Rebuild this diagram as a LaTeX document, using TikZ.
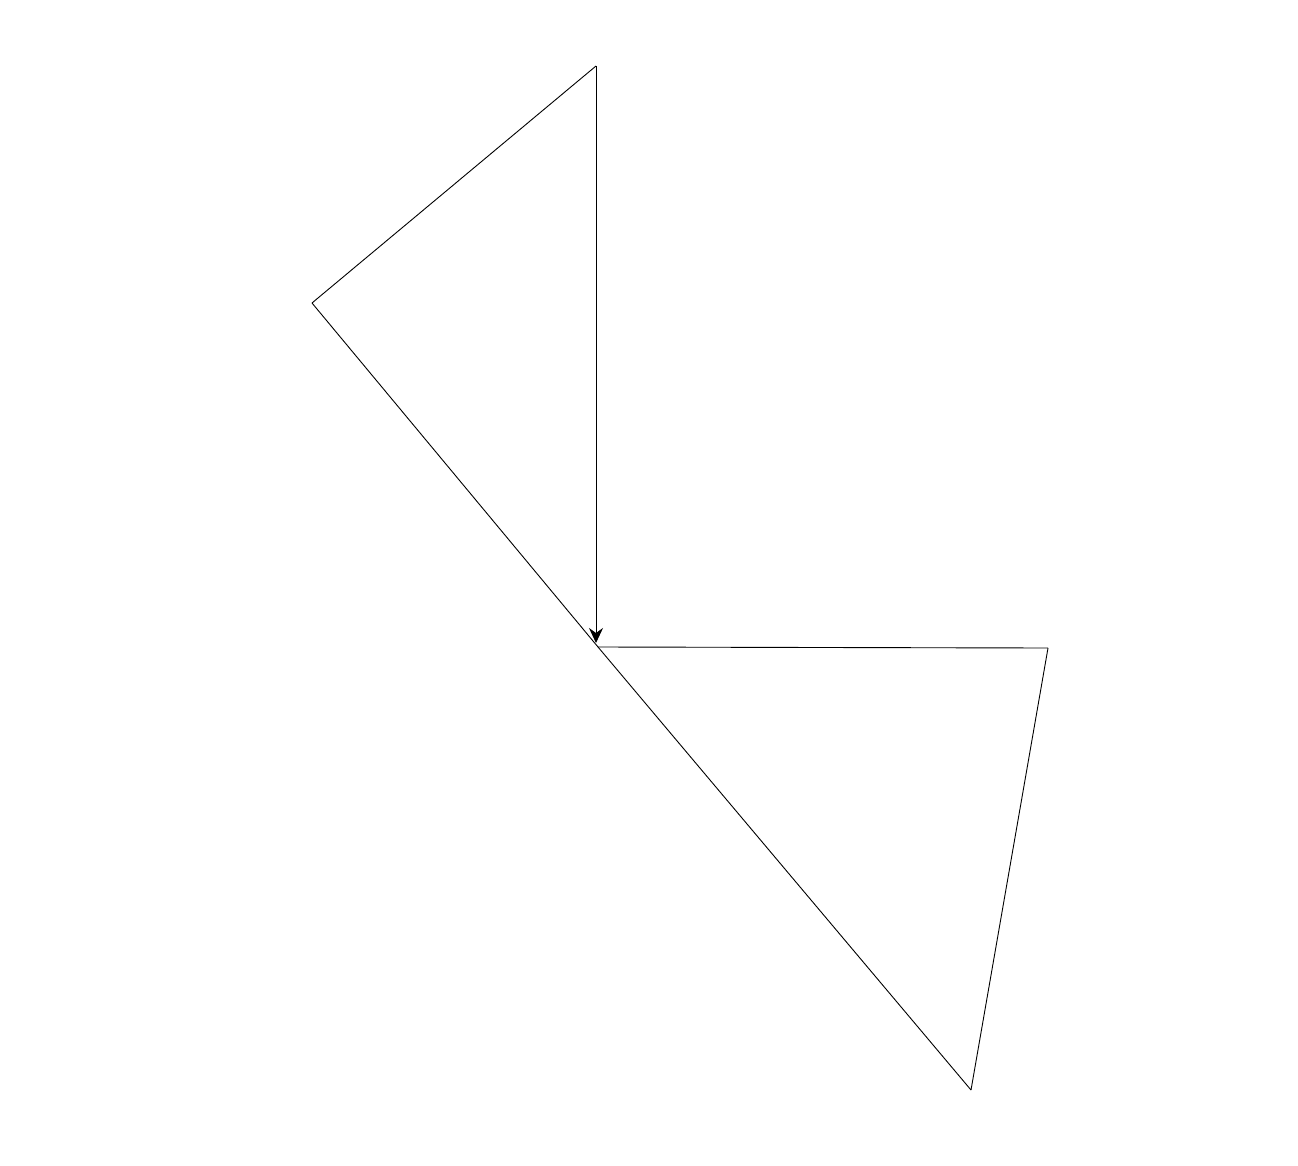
\documentclass[tikz,border=0pt]{standalone}
\usetikzlibrary{arrows.meta}
\begin{document}
\begin{tikzpicture}[x=1pt,y=-1pt,
  edge/.style={draw=black,line width=0.9pt},
  tip/.style={-{Stealth[length=15pt,width=14pt,inset=5pt]}}]
\useasboundingbox (0,0) rectangle (1298,1166);
\fill[white] (0,0) rectangle (1298,1166);
\coordinate (T) at (596,66);
\coordinate (L) at (312,303);
\coordinate (C) at (598,647);
\coordinate (R) at (1048,648);
\coordinate (B) at (971,1090);
\coordinate (Ce) at (596,643);
\draw[edge] (T) -- (L);
\draw[edge] (L) -- (C);
\draw[edge] (C) -- (B);
\draw[edge] (C) -- (R);
\draw[edge] (R) -- (B);
\draw[edge,tip] (T) -- (Ce);
\end{tikzpicture}
\end{document}
